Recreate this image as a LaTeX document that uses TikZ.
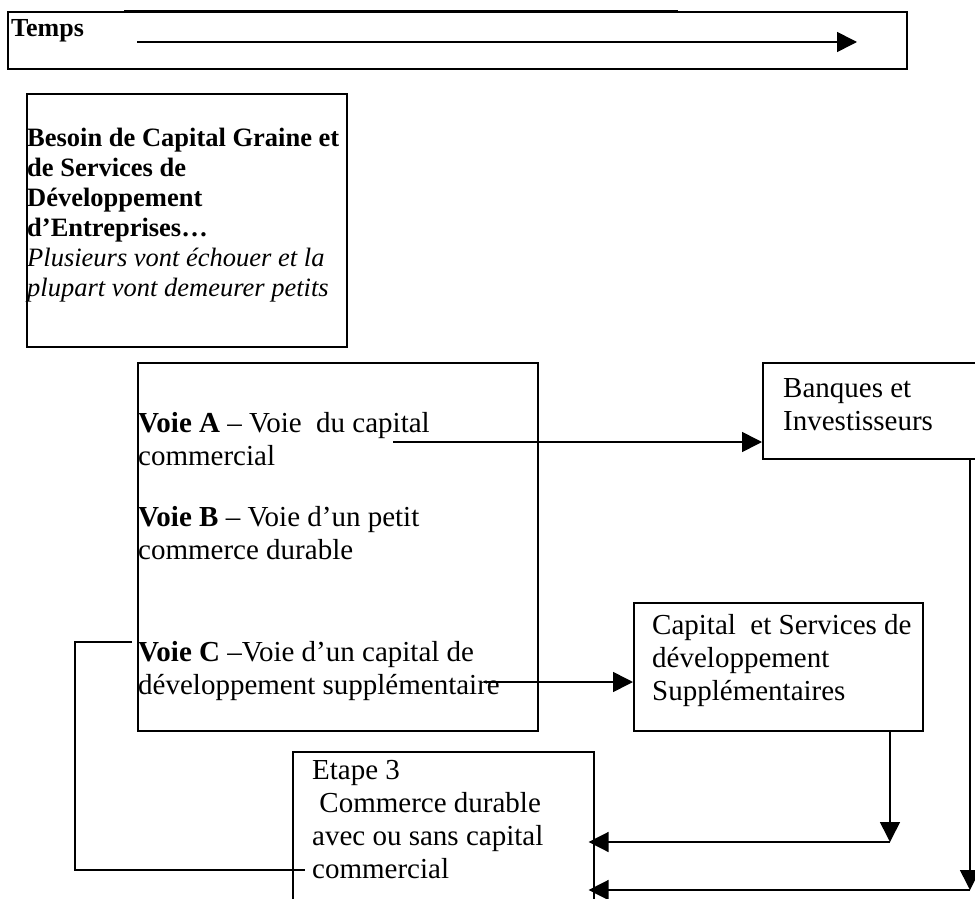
\documentclass[tikz,border=0pt]{standalone}
\usepackage{fontspec}
\setmainfont{Liberation Serif}
\usetikzlibrary{arrows.meta}
\tikzset{
  box/.style={draw, line width=1.6pt, inner sep=0pt, anchor=north west},
  conn/.style={line width=1.6pt},
  arr/.style={conn, -{Triangle[length=20pt,width=20pt]}},
  big/.style={font=\fontsize{29}{33}\selectfont, inner sep=0pt, anchor=base west},
  small/.style={font=\fontsize{26.5}{30}\selectfont, inner sep=0pt, anchor=base west},
}
\begin{document}
\begin{tikzpicture}[x=1pt,y=-1pt]
\useasboundingbox (0,0) rectangle (975,899);
\clip (0,0) rectangle (975,899);
\fill[white] (0,0) rectangle (975,899);

% time bar
\node[box, minimum width=899pt, minimum height=57pt] (bar) at (7,11) {};
\draw[line width=2.6pt] (bar.north west -| 124,0) -- (bar.north west -| 678,0);
\node[small, font=\fontsize{26}{30}\selectfont\bfseries] (temps) at (11,37) {Temps};
\coordinate (ts) at (137,42);
\coordinate (te) at (857,42);
\draw[arr] (ts) -- (te);

% box 1
\node[box, minimum width=320pt, minimum height=253pt] (b1) at (26,93) {};
\node[small] (t1) at (27,146) {\begin{tabular}[t]{@{}l@{}}
\textbf{Besoin de Capital Graine et}\\
\textbf{de Services de}\\
\textbf{Développement}\\
\textbf{d’Entreprises…}\\
\textit{Plusieurs vont échouer et la}\\
\textit{plupart vont demeurer petits}
\end{tabular}};

% box 2
\node[box, minimum width=400pt, minimum height=368pt] (b2) at (137,362) {};
\node[big] (va) at (138,432) {\begin{tabular}[t]{@{}l@{}}
\textbf{Voie A} – Voie\ \ du capital\\
commercial
\end{tabular}};
\node[big] (vb) at (138,526) {\begin{tabular}[t]{@{}l@{}}
\textbf{Voie B} – Voie d’un petit\\
commerce durable
\end{tabular}};
\node[big] (vc) at (138,661) {\begin{tabular}[t]{@{}l@{}}
\textbf{Voie C} –Voie d’un capital de\\
développement supplémentaire
\end{tabular}};

% banques
\node[box, minimum width=230pt, minimum height=96pt] (banq) at (762,362) {};
\node[big] (tb) at (783,397) {\begin{tabular}[t]{@{}l@{}}
Banques et\\
Investisseurs
\end{tabular}};

% capital
\node[box, minimum width=289pt, minimum height=128pt] (cap) at (633,602) {};
\node[big] (tc) at (652,634) {\begin{tabular}[t]{@{}l@{}}
Capital\ \ et Services de\\
développement\\
Supplémentaires
\end{tabular}};

% etape 3
\node[box, minimum width=301pt, minimum height=170pt] (et) at (292,751) {};
\node[big] (te3) at (312,779) {\begin{tabular}[t]{@{}l@{}}
Etape 3\\
\ Commerce durable\\
avec ou sans capital\\
commercial
\end{tabular}};

% connectors
\coordinate (as) at (393,442);
\draw[arr] (as) -- (banq.west |- as);

\coordinate (cs) at (484,682);
\draw[arr] (cs) -- (cap.west |- cs);

\coordinate (r1) at (970,890);
\draw[arr] (banq.south -| r1) -- (r1);
\draw[arr, shorten >=-6pt] (r1) -- (et.east |- r1);

\coordinate (c1) at (890,842);
\draw[arr] (cap.south -| c1) -- (c1);
\draw[arr, shorten >=-6pt] (c1) -- (et.east |- c1);

\coordinate (l0) at (132,642);
\coordinate (l1) at (75,642);
\coordinate (l2) at (75,870);
\coordinate (l3) at (305,870);
\draw[conn] (l0) -- (l1) -- (l2) -- (l3);
\end{tikzpicture}
\end{document}
